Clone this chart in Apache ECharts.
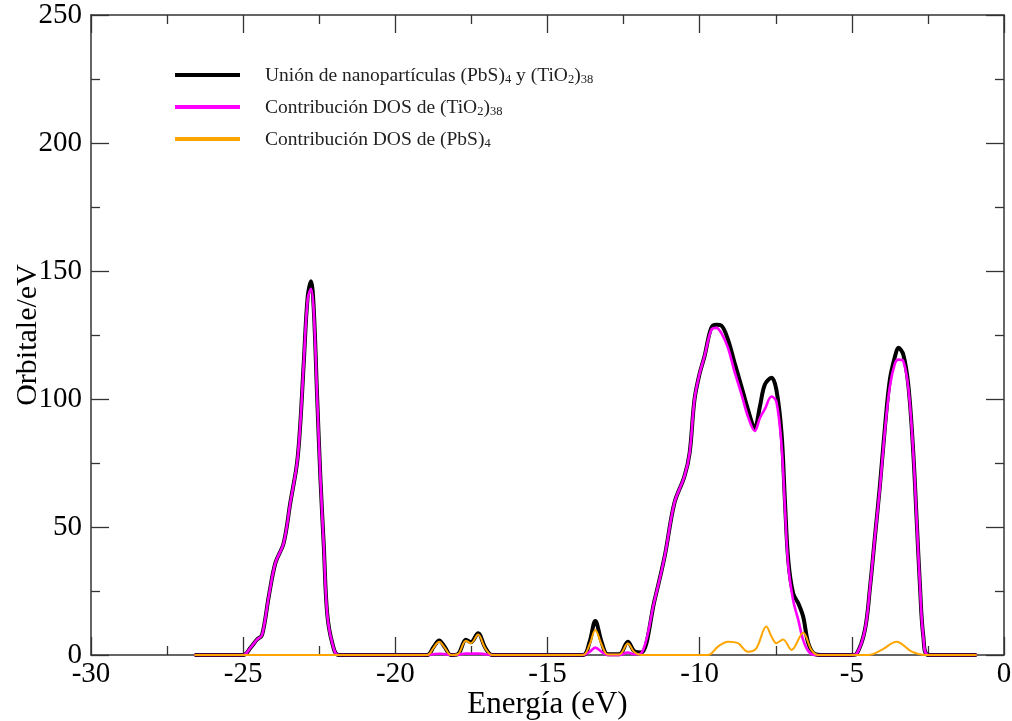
<!DOCTYPE html>
<html>
<head>
<meta charset="utf-8">
<script src="https://cdn.jsdelivr.net/npm/echarts@6/dist/echarts.min.js"></script>
<style>html,body{margin:0;padding:0;background:#fff;}#c{width:1012px;height:721px;}</style>
</head>
<body>
<div id="c"></div>
<script>
// Energy grid (eV) shared by the total DOS and the (TiO2)38 contribution
const energyMain = [-26.6,-25.0,-24.75,-24.54,-24.38,-24.16,-23.94,-23.67,-23.45,-23.23,-23.12,-23.01,-22.88,-22.77,-22.68,-22.57,-22.46,-22.35,-22.24,-22.07,-21.86,
  -18.95,-18.75,-18.56,-18.37,-18.18,-17.95,-17.68,-17.52,-17.28,-17.05,-16.81,
  -13.84,-13.62,-13.43,-13.22,-13.02,-12.64,-12.36,-12.15,-11.92,
  -11.48,-11.15,-10.83,-10.50,-10.33,-10.17,-10.00,-9.84,-9.62,-9.45,-9.29,-9.07,-8.85,-8.63,-8.41,-8.19,-8.02,-7.86,-7.64,-7.48,-7.31,-7.20,-7.09,-6.93,-6.76,-6.60,-6.43,-6.22,-6.0,
  -5.0,-4.84,-4.57,-4.40,-4.24,-4.08,-3.91,-3.75,-3.58,-3.47,-3.31,-3.14,-2.98,-2.87,-2.76,-2.65,-2.48,-0.9];
// Unión de nanopartículas (PbS)4 y (TiO2)38
const totalDOS = [0,0,3,6.1,7.8,22.8,36,43.7,59.5,75,90.8,114,140,146,135,101,68.5,42.4,16.3,4.6,0,
  0,3,5.7,3,0,0.3,6.0,5.0,8.5,3,0,
  0,5,13.3,5,0.3,0.3,5.2,1.5,1,
  21.5,38.5,59.4,69.8,78.9,99.8,110,116.7,127.8,129,128.7,123.2,114,105,95.8,88.7,97.1,105.6,108.3,103.7,86.7,60.6,37.2,24.1,20.2,15,4.6,0.4,0,
  0,0.5,9.8,26.7,46.3,65.8,89.3,107.6,116.7,120,117.4,105,78.9,52.8,26.7,7.2,0,0];
// Contribución DOS de (TiO2)38
const tio2DOS = [0,0,3,6.1,7.8,22.8,36,43.7,59.5,75,90.8,114,139,143,134,101,68.5,42.4,16.3,4.6,0,
  0,0.3,0.5,0.3,0,0.1,0.6,0.5,0.6,0.3,0,
  0,1.2,2.9,1.2,0,0,1,0.3,0.7,
  21.5,38.5,59.4,69.8,78.9,99.8,110,116.7,127,127.8,125.8,120,110.5,102,93,87.5,92.6,96,101,99,82,58,35,21.5,13.7,5.9,1.5,0,0,
  0,0.5,9.8,26.7,46.3,65,88,105,114,115.4,114.8,104,78.9,52.8,26.7,7.2,0,0];
// Contribución DOS de (PbS)4
const energyPbS = [-26.6,-18.95,-18.75,-18.56,-18.37,-18.18,-17.95,-17.68,-17.52,-17.28,-17.05,-16.81,
  -13.84,-13.62,-13.43,-13.22,-13.02,-12.64,-12.36,-12.15,-11.92,
  -9.73,-9.40,-9.07,-8.74,-8.41,-8.14,-7.81,-7.64,-7.48,-7.26,-6.98,-6.60,-6.33,-6.10,
  -4.46,-4.02,-3.53,-3.03,-2.59,-0.9];
const pbsDOS = [0,0,2.7,5.2,2.7,0,0.3,5.6,4.6,8,2.7,0,
  0,4,9.8,4,0.2,0.2,4.5,1.2,0,
  0,3.3,5.2,4.6,1.3,2.6,11.1,7.2,4.6,6.1,2.0,8.7,2,0,
  0,2,5.2,1.3,0,0];

const xTicks = { min: -30, max: 0, interval: 5 };
const yTicks = { min: 0, max: 250, interval: 50 };

const pair = (xs, ys) => xs.map((x, i) => [x, ys[i]]);

const chart = echarts.init(document.getElementById('c'), null, { renderer: 'canvas' });
const axisCol = '#333';
const serif = 'Liberation Serif';
const baseAxis = {
  type: 'value', splitLine: { show: false }, nameMoveOverlap: false,
  axisLine: { show: true, onZero: false, lineStyle: { color: axisCol, width: 1.5 } },
  axisTick: { show: true, inside: true, length: 18, lineStyle: { color: axisCol, width: 1.3 } },
  minorTick: { show: true, splitNumber: 2, length: 9, lineStyle: { color: axisCol, width: 1.3 } },
};
const legendFmt = {
  'Unión': '{a|Unión de nanopartículas (PbS)}{s|4}{a| y (TiO}{s|2}{a|)}{s|38}',
  'TiO2': '{a|Contribución DOS de (TiO}{s|2}{a|)}{s|38}',
  'PbS': '{a|Contribución DOS de (PbS)}{s|4}'
};
chart.setOption({
  animation: false,
  backgroundColor: '#fff',
  grid: { left: 91, right: 8, top: 15, bottom: 66, outerBoundsMode: 'none', containLabel: false },
  xAxis: [
    Object.assign({}, baseAxis, {
      min: xTicks.min, max: xTicks.max, interval: xTicks.interval, position: 'bottom',
      axisLabel: { fontFamily: serif, fontSize: 29, color: '#000', margin: 5 },
      name: 'Energía (eV)', nameLocation: 'middle', nameGap: 34,
      nameTextStyle: { fontFamily: serif, fontSize: 31, color: '#000' }
    }),
    Object.assign({}, baseAxis, {
      min: xTicks.min, max: xTicks.max, interval: xTicks.interval, position: 'top',
      axisLabel: { show: false }
    })
  ],
  yAxis: [
    Object.assign({}, baseAxis, {
      min: yTicks.min, max: yTicks.max, interval: yTicks.interval, position: 'left',
      axisLabel: { fontFamily: serif, fontSize: 29, color: '#000', margin: 9 },
      name: 'Orbitale/eV', nameLocation: 'middle', nameGap: 48, nameRotate: 90,
      nameTextStyle: { fontFamily: serif, fontSize: 30, color: '#000' }
    }),
    Object.assign({}, baseAxis, {
      min: yTicks.min, max: yTicks.max, interval: yTicks.interval, position: 'right',
      axisLabel: { show: false }
    })
  ],
  legend: {
    orient: 'vertical', left: 175, top: 66, padding: 0, itemWidth: 65, itemHeight: 4, itemGap: 12,
    selectedMode: false, icon: 'rect',
    formatter: n => legendFmt[n],
    textStyle: {
      padding: [0, 0, 0, 20],
      rich: {
        a: { fontFamily: serif, fontSize: 19.5, color: '#222', lineHeight: 22, verticalAlign: 'bottom' },
        s: { fontFamily: serif, fontSize: 12.5, color: '#222', lineHeight: 12, verticalAlign: 'bottom' }
      }
    },
    data: ['Unión', 'TiO2', 'PbS']
  },
  series: [
    { name: 'Unión', type: 'line', data: pair(energyMain, totalDOS), smooth: 0.35, showSymbol: false, clip: false,
      lineStyle: { color: '#000', width: 4 }, itemStyle: { color: '#000' }, z: 2 },
    { name: 'TiO2', type: 'line', data: pair(energyMain, tio2DOS), smooth: 0.35, showSymbol: false, clip: false,
      lineStyle: { color: '#ff00ff', width: 2.6 }, itemStyle: { color: '#ff00ff' }, z: 3 },
    { name: 'PbS', type: 'line', data: pair(energyPbS, pbsDOS), smooth: 0.35, showSymbol: false, clip: false,
      lineStyle: { color: '#ffa500', width: 2 }, itemStyle: { color: '#ffa500' }, z: 4 }
  ]
});
</script>
</body>
</html>
